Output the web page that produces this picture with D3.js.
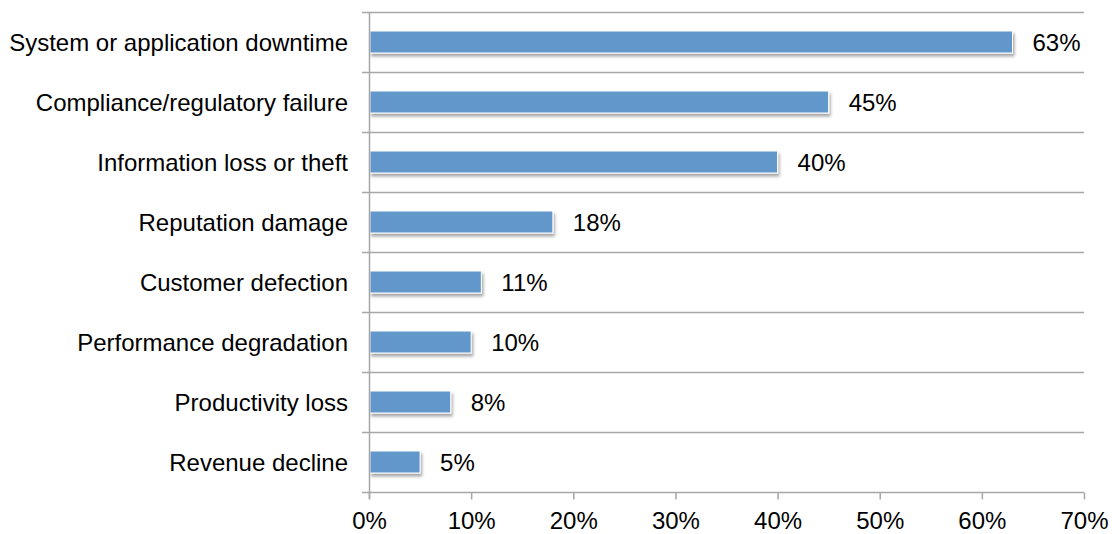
<!DOCTYPE html>
<html>
<head>
<meta charset="utf-8">
<script src="https://cdn.jsdelivr.net/npm/d3@7"></script>
<style>
  html, body { margin: 0; padding: 0; background: #fff; }
  svg { display: block; }
  text { font-family: "Liberation Sans", Arial, sans-serif; fill: #000; }
</style>
</head>
<body>
<svg id="chart" width="1112" height="534"></svg>
<script>
// Categories, top to bottom, and their shares (%)
const categories = [
  "System or application downtime",
  "Compliance/regulatory failure",
  "Information loss or theft",
  "Reputation damage",
  "Customer defection",
  "Performance degradation",
  "Productivity loss",
  "Revenue decline"
];
const values = [63, 45, 40, 18, 11, 10, 8, 5];
const tickValues = [0, 10, 20, 30, 40, 50, 60, 70];
const tickLabels = ["0%", "10%", "20%", "30%", "40%", "50%", "60%", "70%"];

const svg = d3.select("#chart");
const margin = { left: 369, right: 28, top: 12, bottom: 42 };
const W = 1112, H = 534;
const fontSize = 24;

const x = d3.scaleLinear().domain([0, 70]).range([margin.left, W - margin.right]);
const y = d3.scaleBand().domain(categories).range([margin.top, H - margin.bottom]).paddingInner(0).paddingOuter(0);

const gridColor = "#a6a6a6";

// Soft drop shadow under each bar
const defs = svg.append("defs");
const f = defs.append("filter").attr("id", "shadow")
  .attr("x", "-5%").attr("y", "-30%").attr("width", "115%").attr("height", "190%");
f.append("feDropShadow").attr("dx", 1.5).attr("dy", 3).attr("stdDeviation", 1.8)
  .attr("flood-color", "#000").attr("flood-opacity", 0.35);

// Band separators (with left tick stubs)
const bounds = categories.map(c => y(c));
svg.append("g").selectAll("line").data(bounds).join("line")
  .attr("x1", margin.left - 7).attr("x2", x(70))
  .attr("y1", d => Math.round(d) + 0.5).attr("y2", d => Math.round(d) + 0.5)
  .attr("stroke", gridColor).attr("stroke-width", 1.5);

// Bars
const barH = 22;
svg.append("g").selectAll("rect").data(values).join("rect")
  .attr("x", x(0) + 1)
  .attr("y", (d, i) => y(categories[i]) + y.bandwidth() / 2 - barH / 2)
  .attr("width", d => x(d) - x(0) - 1)
  .attr("height", barH)
  .attr("fill", "#6297cb")
  .attr("stroke", "#ffffff")
  .attr("stroke-width", 1)
  .attr("filter", "url(#shadow)");

// Value labels
svg.append("g").selectAll("text").data(values).join("text")
  .attr("x", d => x(d) + 20)
  .attr("y", (d, i) => y(categories[i]) + y.bandwidth() / 2)
  .attr("dy", "0.38em")
  .attr("font-size", fontSize)
  .text(d => d + "%");

// Category labels
svg.append("g").selectAll("text").data(categories).join("text")
  .attr("x", margin.left - 21)
  .attr("y", d => y(d) + y.bandwidth() / 2)
  .attr("dy", "0.38em")
  .attr("text-anchor", "end")
  .attr("font-size", fontSize)
  .text(d => d);

// Vertical axis line
svg.append("line")
  .attr("x1", margin.left + 0.5).attr("x2", margin.left + 0.5)
  .attr("y1", margin.top).attr("y2", y.range()[1] + 7)
  .attr("stroke", gridColor).attr("stroke-width", 1.5);

// Bottom axis
const xAxis = d3.axisBottom(x).tickValues(tickValues)
  .tickFormat((d, i) => tickLabels[i]).tickSize(7).tickSizeOuter(0).tickPadding(12);
const gx = svg.append("g").attr("transform", `translate(0,${Math.round(y.range()[1]) + 0.5})`).call(xAxis);
gx.select(".domain").attr("stroke", gridColor).attr("stroke-width", 1.5).attr("d", `M${margin.left - 7},0H${x(70)}`);
gx.selectAll(".tick line").attr("stroke", gridColor).attr("stroke-width", 1.5);
gx.selectAll(".tick text").attr("font-size", fontSize).attr("font-family", "Liberation Sans, Arial, sans-serif").attr("fill", "#000");
</script>
</body>
</html>
